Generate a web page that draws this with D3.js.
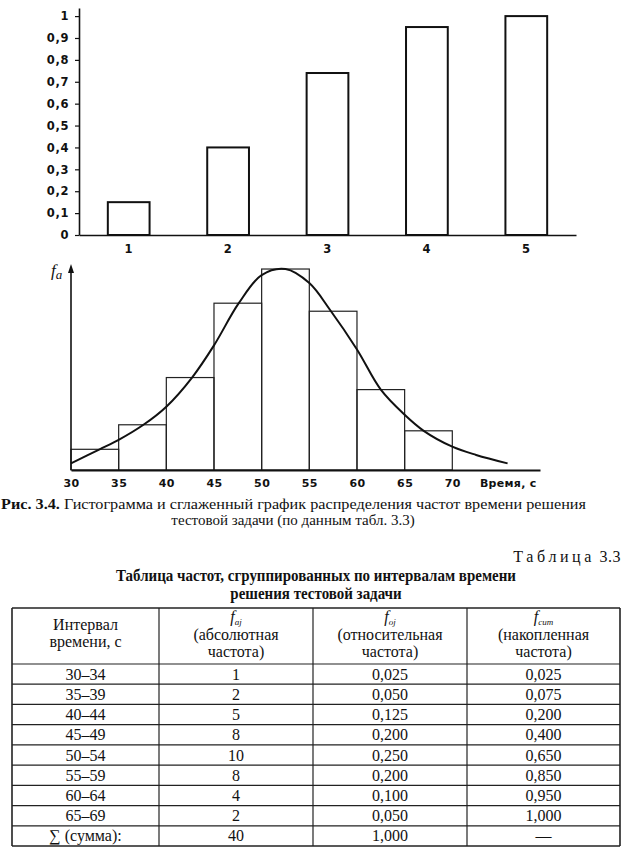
<!DOCTYPE html>
<html>
<head>
<meta charset="utf-8">
<script src="https://cdn.jsdelivr.net/npm/d3@7"></script>
<style>
  body { margin: 0; background: #fff; }
  svg { display: block; }
  .sans { font-family: "DejaVu Sans", sans-serif; font-weight: bold; }
  .serif { font-family: "Liberation Serif", "Times New Roman", serif; }
</style>
</head>
<body>
<svg id="fig" width="623" height="868"></svg>
<script>
// Накопленная частота по группам (верхний график)
const cumCategories = [1, 2, 3, 4, 5];
const cumValues = [0.15, 0.40, 0.74, 0.95, 1.00];
const cumTicks = [0, 0.1, 0.2, 0.3, 0.4, 0.5, 0.6, 0.7, 0.8, 0.9, 1];

// Гистограмма (нижний график)
const histEdges = [30, 35, 40, 45, 50, 55, 60, 65, 70];
const histValues = [1.03, 2.25, 4.6, 8.3, 10, 7.9, 4.0, 1.95];
const timeTicks = [30, 35, 40, 45, 50, 55, 60, 65, 70];

// Сглаженная кривая
const curveX = [30, 33, 35, 37.6, 40, 42.7, 45, 47.6, 50, 52.5, 55, 57.2, 60, 62.5, 65, 67, 70, 72.5, 75.8];
const curveY = [0.33, 1.03, 1.5, 2.25, 3.15, 4.6, 6.2, 8.3, 9.7, 10, 9.3, 7.95, 6.0, 4.0, 2.75, 1.95, 1.16, 0.75, 0.33];

// Таблица 3.3
const intervals = ['30–34', '35–39', '40–44', '45–49', '50–54', '55–59', '60–64', '65–69', '\u2211 (сумма):'];
const absFreq = ['1', '2', '5', '8', '10', '8', '4', '2', '40'];
const relFreq = ['0,025', '0,050', '0,125', '0,200', '0,250', '0,200', '0,100', '0,050', '1,000'];
const cumFreq = ['0,025', '0,075', '0,200', '0,400', '0,650', '0,850', '0,950', '1,000', '—'];

const svg = d3.select('#fig');
const ink = '#111';

// ---------- верхний график ----------
const gTop = svg.append('g');
const xTop = d3.scaleBand().domain(cumCategories).range([79, 576])
    .paddingInner(0.58).paddingOuter(0.29);
const yTop = d3.scaleLinear().domain([0, 1.037]).range([235, 8]);

gTop.selectAll('rect.bar')
    .data(cumValues)
    .enter().append('rect')
    .attr('class', 'bar')
    .attr('x', (d, i) => xTop(cumCategories[i]))
    .attr('y', d => yTop(d))
    .attr('width', xTop.bandwidth())
    .attr('height', d => yTop(0) - yTop(d))
    .attr('fill', '#fff')
    .attr('stroke', ink)
    .attr('stroke-width', 2);

const fmtComma = d => d3.format('~g')(d).replace('.', ',');

const yAxisTop = gTop.append('g')
    .attr('transform', `translate(${xTop.range()[0]},0)`)
    .call(d3.axisLeft(yTop).tickValues(cumTicks).tickSize(4).tickSizeOuter(0)
        .tickPadding(6).tickFormat(fmtComma));

const xAxisTop = gTop.append('g')
    .attr('transform', `translate(0,${yTop(0)})`)
    .call(d3.axisBottom(xTop).tickSize(0).tickPadding(10));

[yAxisTop, xAxisTop].forEach(a => {
    a.select('.domain').attr('stroke', ink).attr('stroke-width', 1.6);
    a.selectAll('.tick line').attr('stroke', ink).attr('stroke-width', 1.2);
    a.selectAll('text').attr('class', 'sans').attr('font-size', 11.5)
        .attr('fill', ink).attr('letter-spacing', 0.6);
});

// ---------- гистограмма ----------
const hist = svg.append('g');
const xH = d3.scaleLinear().domain([30, 79.2]).range([71, 540]);
const yH = d3.scaleLinear().domain([0, 10.25]).range([470, 264]);

hist.selectAll('rect.bin')
    .data(histValues)
    .enter().append('rect')
    .attr('class', 'bin')
    .attr('x', (d, i) => xH(histEdges[i]))
    .attr('y', d => yH(d))
    .attr('width', (d, i) => xH(histEdges[i + 1]) - xH(histEdges[i]))
    .attr('height', d => yH(0) - yH(d))
    .attr('fill', 'none')
    .attr('stroke', '#222')
    .attr('stroke-width', 1.2);

const curvePts = curveX.map((x, i) => [x, curveY[i]]);
hist.append('path')
    .datum(curvePts)
    .attr('fill', 'none')
    .attr('stroke', ink)
    .attr('stroke-width', 2)
    .attr('d', d3.line().x(d => xH(d[0])).y(d => yH(d[1])).curve(d3.curveCatmullRom.alpha(0.5)));

const xAxisH = hist.append('g')
    .attr('transform', `translate(0,${yH(0)})`)
    .call(d3.axisBottom(xH).tickValues(timeTicks).tickSize(0).tickSizeOuter(0).tickPadding(9));
xAxisH.select('.domain').attr('stroke', ink).attr('stroke-width', 2);
xAxisH.selectAll('text').attr('class', 'sans').attr('font-size', 11)
    .attr('fill', ink).attr('letter-spacing', 0.4);

hist.append('text')
    .attr('class', 'sans')
    .attr('x', xH(72.9))
    .attr('y', yH(0) + 17)
    .attr('font-size', 11)
    .attr('letter-spacing', 0.3)
    .attr('fill', ink)
    .text('Время, с');

// ось f_a со стрелкой
const yTopH = yH.domain()[1];
hist.append('line')
    .attr('x1', xH(30)).attr('x2', xH(30))
    .attr('y1', yH(0)).attr('y2', yH(yTopH) + 6)
    .attr('stroke', ink).attr('stroke-width', 1.6);
hist.append('path')
    .attr('d', `M${xH(30) - 3},${yH(yTopH) + 9} L${xH(30)},${yH(yTopH)} L${xH(30) + 3},${yH(yTopH) + 9} Z`)
    .attr('fill', ink);

const fa = hist.append('text')
    .attr('class', 'serif')
    .attr('x', xH(30) - 20)
    .attr('y', yH(yTopH) + 12)
    .attr('font-style', 'italic')
    .attr('fill', ink);
fa.append('tspan').attr('font-size', 17).text('f');
fa.append('tspan').attr('font-size', 13).attr('dy', 3).text('a');

// ---------- подпись к рисунку ----------
const cap1 = svg.append('text')
    .attr('class', 'serif')
    .attr('x', 1).attr('y', 509)
    .attr('font-size', 15)
    .attr('fill', ink)
    .attr('textLength', 585)
    .attr('lengthAdjust', 'spacingAndGlyphs');
cap1.append('tspan').attr('font-weight', 'bold').text('Рис. 3.4.');
cap1.append('tspan').text(' Гистограмма и сглаженный график распределения частот времени решения');

svg.append('text')
    .attr('class', 'serif')
    .attr('x', 293).attr('y', 525)
    .attr('text-anchor', 'middle')
    .attr('font-size', 15)
    .attr('fill', ink)
    .text('тестовой задачи (по данным табл. 3.3)');

// ---------- таблица ----------
const colEdges = [12, 159, 313, 467, 620];
const colMid = colEdges.slice(0, 4).map((x, i) => (x + colEdges[i + 1]) / 2);
const headTop = 608;
const rows = d3.scaleBand().domain(d3.range(intervals.length)).range([664, 846]);

// «Таблица» вразрядку, номер — обычным набором
const tabNo = svg.append('text')
    .attr('class', 'serif')
    .attr('x', 621).attr('y', 562)
    .attr('text-anchor', 'end')
    .attr('font-size', 16)
    .attr('fill', ink);
tabNo.append('tspan').attr('letter-spacing', 3.6).text('Таблица');
tabNo.append('tspan').attr('letter-spacing', 0.5).text(' 3.3');

// заголовок таблицы: обе строки сжаты одинаково
const titleLines = svg.selectAll('text.title')
    .data([['Таблица частот, сгруппированных по интервалам времени', 581],
           ['решения тестовой задачи', 599]])
    .enter().append('text')
    .attr('class', 'serif title')
    .attr('x', (colEdges[0] + colEdges[4]) / 2).attr('y', d => d[1])
    .attr('text-anchor', 'middle')
    .attr('font-size', 16.5)
    .attr('font-weight', 'bold')
    .attr('fill', ink)
    .text(d => d[0]);
const squeeze = 400 / titleLines.nodes()[0].getComputedTextLength();
titleLines.each(function() {
    d3.select(this)
        .attr('textLength', this.getComputedTextLength() * squeeze)
        .attr('lengthAdjust', 'spacingAndGlyphs');
});

const tbl = svg.append('g');
const tblBottom = rows.range()[1];

// горизонтальные линии
const hLines = [headTop].concat(rows.domain().map(i => rows(i)), [tblBottom]);
tbl.selectAll('line.h')
    .data(hLines)
    .enter().append('line')
    .attr('x1', colEdges[0]).attr('x2', colEdges[4])
    .attr('y1', d => d).attr('y2', d => d)
    .attr('stroke', '#222')
    .attr('stroke-width', (d, i) => (i === 0 || i === hLines.length - 1) ? 1.6 : 1.2);

// вертикальные линии
tbl.selectAll('line.v')
    .data(colEdges)
    .enter().append('line')
    .attr('x1', d => d).attr('x2', d => d)
    .attr('y1', headTop).attr('y2', tblBottom)
    .attr('stroke', '#222')
    .attr('stroke-width', (d, i) => (i === 0 || i === colEdges.length - 1) ? 1.6 : 1.2);

// шапка
const cellStyle = sel => sel.attr('class', 'serif').attr('text-anchor', 'middle')
    .attr('font-size', 16).attr('fill', ink);

tbl.append('text').call(cellStyle).attr('x', colMid[0]).attr('y', 630).text('Интервал');
tbl.append('text').call(cellStyle).attr('x', colMid[0]).attr('y', 647).text('времени, с');

const subHeads = [['aj', '(абсолютная'], ['oj', '(относительная'], ['cum', '(накопленная']];
subHeads.forEach(([sub, word], k) => {
    const cx = colMid[k + 1];
    const f = tbl.append('text').call(cellStyle).attr('x', cx).attr('y', 622).attr('font-style', 'italic');
    f.append('tspan').attr('font-size', 16).text('f');
    f.append('tspan').attr('font-size', 9).attr('dy', 3).text(sub);
    tbl.append('text').call(cellStyle).attr('x', cx).attr('y', 640).text(word);
    tbl.append('text').call(cellStyle).attr('x', cx).attr('y', 657).text('частота)');
});

// строки
const columns = [intervals, absFreq, relFreq, cumFreq];
columns.forEach((col, c) => {
    tbl.selectAll(null)
        .data(col)
        .enter().append('text')
        .call(cellStyle)
        .attr('x', colMid[c])
        .attr('y', (d, i) => rows(i) + rows.bandwidth() / 2 + 5.5)
        .text(d => d);
});
</script>
</body>
</html>
